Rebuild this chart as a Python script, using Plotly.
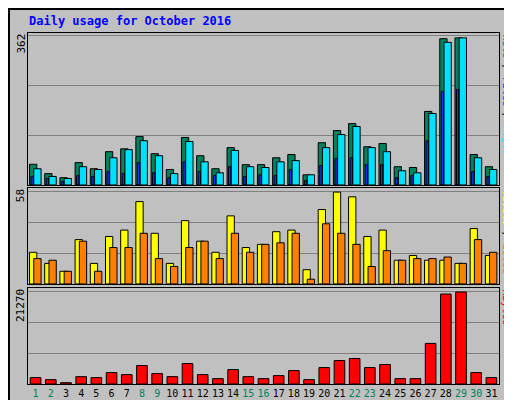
import plotly.graph_objects as go
from plotly.subplots import make_subplots

days = list(range(1, 32))
weekend = {1, 2, 8, 9, 15, 16, 22, 23, 29, 30}
hits = [51,28,18,55,40,82,89,119,77,38,117,72,40,92,50,50,67,75,25,104,134,151,94,102,45,43,181,360,362,75,45]
files = [40,21,16,45,38,67,87,109,72,28,107,57,30,85,45,43,57,60,25,92,124,144,92,82,35,30,176,351,362,67,38]
pages = [21,16,8,23,21,33,28,55,30,18,57,33,23,45,21,25,23,38,11,48,65,67,50,50,18,23,109,230,235,33,21]
visits = [20,13,8,28,13,30,34,52,32,13,40,27,20,43,23,25,33,34,9,47,58,55,30,34,15,18,15,15,13,35,18]
sites = [16,15,8,27,8,23,23,32,16,11,23,27,16,32,20,25,26,32,3,38,32,25,11,21,15,16,16,17,13,28,20]
kbytes = [1475,1000,300,1700,1475,2640,2170,4270,2400,1700,4740,2170,1240,3340,1700,1240,1940,3100,1000,3800,5430,5900,3800,4500,1240,1240,9390,20800,21270,2640,1475]

fig = make_subplots(rows=3, cols=1, shared_xaxes=True, vertical_spacing=0)
ln = dict(color="black", width=1)
fig.add_bar(x=days, y=hits, offset=-0.40, width=0.48, marker=dict(color="#00805c", line=ln), row=1, col=1)
fig.add_bar(x=days, y=files, offset=-0.12, width=0.48, marker=dict(color="#00e0ff", line=ln), row=1, col=1)
fig.add_bar(x=days, y=pages, offset=-0.30, width=0.15, marker=dict(color="#0040ff", line=ln), row=1, col=1)
fig.add_bar(x=days, y=visits, offset=-0.40, width=0.48, marker=dict(color="#ffff00", line=ln), row=2, col=1)
fig.add_bar(x=days, y=sites, offset=-0.12, width=0.48, marker=dict(color="#ff8000", line=ln), row=2, col=1)
fig.add_bar(x=days, y=kbytes, offset=-0.35, width=0.70, marker=dict(color="#ff0000", line=ln), row=3, col=1)

ticktext = [f"<span style='color:#00805c'>{d}</span>" if d in weekend else str(d) for d in days]
mono = "DejaVu Sans Mono"
fig.update_layout(
    width=512, height=400, showlegend=False, barmode="overlay",
    paper_bgcolor="#c0c0c0", plot_bgcolor="#c0c0c0",
    margin=dict(l=20, r=21, t=25, b=24),
    font=dict(family=mono, size=11, color="black"),
)
for i, (top, dom) in enumerate([(374, [0.567, 1]), (60.5, [0.285, 0.558]), (22200, [0, 0.2735])], start=1):
    fig.update_yaxes(range=[0, top], dtick=top / 3.05 if i == 1 else top / 3.1, showticklabels=False,
                     gridcolor="#808080", gridwidth=1, showline=True, linecolor="black", mirror=True,
                     zeroline=False, domain=dom, row=i, col=1)
    fig.update_xaxes(range=[0.5, 31.5], showline=True, linecolor="black", mirror=True,
                     showgrid=False, zeroline=False, ticks="", row=i, col=1)
fig.update_xaxes(tickvals=days, ticktext=ticktext, tickangle=0, automargin=False,
                 tickfont=dict(size=10), row=3, col=1)

ann = [
    dict(x=0.0, y=1.0, text="<b>Daily usage for October 2016</b>", xref="paper", yref="paper",
         xanchor="left", yanchor="bottom", yshift=3, xshift=-1, font=dict(color="#0000ff", size=12)),
    dict(x=0, y=1.0, text="362", xanchor="right", yanchor="top", textangle=-90),
    dict(x=0, y=0.558, text="58", xanchor="right", yanchor="top", textangle=-90),
    dict(x=0, y=0.2735, text="21270", xanchor="right", yanchor="top", textangle=-90),
    dict(x=1, y=1.0, text="<span style='color:#00805c'>Hits</span> / <span style='color:#0040ff'>Files</span> / <span style='color:#00e0ff'>Pages</span>",
         xanchor="left", yanchor="top", textangle=90),
    dict(x=1, y=0.558, text="<span style='color:#ffff00'>Visits</span> / <span style='color:#ff8000'>Sites</span>",
         xanchor="left", yanchor="top", textangle=90),
    dict(x=1, y=0.2735, text="<span style='color:#ff0000'>KBytes</span>",
         xanchor="left", yanchor="top", textangle=90),
]
for a in ann:
    a.setdefault("xref", "paper"); a.setdefault("yref", "paper")
    a["showarrow"] = False
    if a.get("textangle") == 90:
        a["font"] = dict(size=10); a["borderpad"] = 0; a["xshift"] = 1
    if a.get("textangle") == -90:
        a["borderpad"] = 0
    fig.add_annotation(**a)
fig.add_shape(type="rect", xref="paper", yref="paper", x0=-19/471, x1=1+20/471, y0=-23/351, y1=1+24/351,
              line=dict(color="black", width=2))
fig.write_html("out.html")
